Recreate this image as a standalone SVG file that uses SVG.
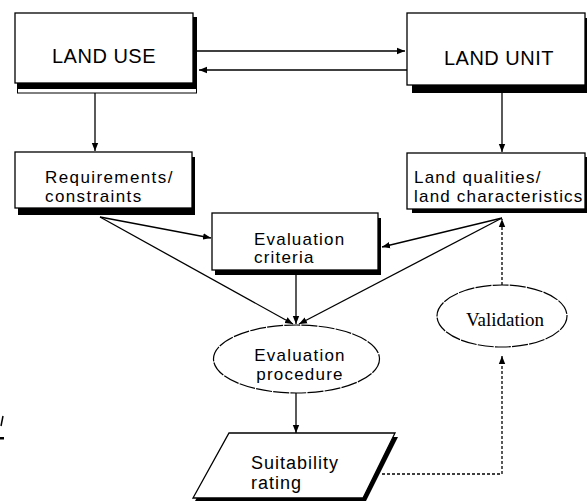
<svg xmlns="http://www.w3.org/2000/svg" width="587" height="501" viewBox="0 0 587 501">
<style>
.box{fill:#fff;stroke:#000;stroke-width:1.3}
.sh{fill:#000}
.outl{fill:none;stroke:#000;stroke-width:1}
.t{font-family:"Liberation Sans",Arial,sans-serif;fill:#000}
.c{fill:none;stroke:#000;stroke-width:1.3}
.d{fill:none;stroke:#000;stroke-width:1.3;stroke-dasharray:3 2}
.ell{fill:#fff;stroke:#000;stroke-width:1.2;stroke-dasharray:16 1.2}
</style>
<defs>
<marker id="ah" markerUnits="userSpaceOnUse" markerWidth="9" markerHeight="8" refX="8" refY="4" orient="auto">
<path d="M0,0.8 L8,4 L0,7.2 Z" fill="#000"/>
</marker>
</defs>
<rect width="587" height="501" fill="#fff"/>
<g id="artifact">
<line x1="3" y1="416" x2="1" y2="426" stroke="#000" stroke-width="1.5"/>
<rect x="0" y="437" width="4" height="2.5" fill="#000"/>
</g>
<g id="land-use">
<rect class="outl" x="17.5" y="17.5" width="179" height="75.5"/>
<rect class="sh" x="18" y="17" width="178" height="72"/>
<rect class="box" x="15" y="13" width="178" height="70"/>
<text class="t" x="104" y="63" font-size="20" text-anchor="middle" letter-spacing="0.5">LAND USE</text>
</g>
<g id="land-unit">
<rect class="sh" x="412" y="18" width="175" height="75"/>
<rect class="box" x="407" y="13" width="178" height="72"/>
<text class="t" x="499" y="65" font-size="20" text-anchor="middle" letter-spacing="0.5">LAND UNIT</text>
</g>
<g id="requirements">
<rect class="sh" x="18" y="157" width="177" height="58"/>
<rect class="box" x="15" y="152" width="177" height="56"/>
<text class="t" x="45" y="183" font-size="17" letter-spacing="1.4">Requirements/</text>
<text class="t" x="45" y="202" font-size="17" letter-spacing="1.4">constraints</text>
</g>
<g id="land-qualities">
<rect class="sh" x="412" y="157" width="175" height="56"/>
<rect class="box" x="407" y="153" width="178" height="56"/>
<text class="t" x="414" y="183" font-size="17" letter-spacing="1.2">Land qualities/</text>
<text class="t" x="414" y="202" font-size="17" letter-spacing="1.2">land characteristics</text>
</g>
<g id="evaluation-criteria">
<rect class="sh" x="215" y="218" width="166" height="57"/>
<rect class="box" x="212" y="213" width="166" height="57"/>
<text class="t" x="254" y="245" font-size="17" letter-spacing="1.2">Evaluation</text>
<text class="t" x="254" y="263" font-size="17" letter-spacing="1.2">criteria</text>
</g>
<g id="evaluation-procedure">
<ellipse class="ell" cx="296.5" cy="359" rx="83" ry="34"/>
<text class="t" x="300" y="361" font-size="17" text-anchor="middle" letter-spacing="1.2">Evaluation</text>
<text class="t" x="300" y="380" font-size="17" text-anchor="middle" letter-spacing="1.2">procedure</text>
</g>
<g id="validation">
<ellipse class="ell" cx="502" cy="316" rx="65" ry="31"/>
<text x="505" y="326" font-family="'Liberation Serif','Times New Roman',serif" font-size="19" text-anchor="middle">Validation</text>
</g>
<g id="suitability-rating">
<polygon points="231,437 398,437 366,501 195,501" fill="#000"/>
<polygon class="box" points="229,433 395,433 363,498 193,498"/>
<text class="t" x="251" y="469" font-size="18" letter-spacing="1">Suitability</text>
<text class="t" x="251" y="489" font-size="18" letter-spacing="1">rating</text>
</g>
<g id="connectors">
<line class="c" x1="197" y1="51" x2="405" y2="51" marker-end="url(#ah)"/>
<line class="c" x1="407" y1="70" x2="199" y2="70" marker-end="url(#ah)"/>
<line class="c" x1="95" y1="93" x2="95" y2="151" marker-end="url(#ah)"/>
<line class="c" x1="502" y1="93" x2="502" y2="152" marker-end="url(#ah)"/>
<line class="c" x1="100" y1="217" x2="211" y2="238" marker-end="url(#ah)"/>
<line class="c" x1="100" y1="217" x2="293" y2="324" marker-end="url(#ah)"/>
<line class="c" x1="502" y1="218" x2="382" y2="247" marker-end="url(#ah)"/>
<line class="c" x1="502" y1="218" x2="299" y2="324" marker-end="url(#ah)"/>
<line class="c" x1="296" y1="275" x2="296" y2="324" marker-end="url(#ah)"/>
<line class="c" x1="296" y1="393" x2="296" y2="433" marker-end="url(#ah)"/>
<polyline class="d" points="382,474 502,474 502,356" marker-end="url(#ah)"/>
<line class="d" x1="502" y1="285" x2="502" y2="219" marker-end="url(#ah)"/>
</g>
</svg>
